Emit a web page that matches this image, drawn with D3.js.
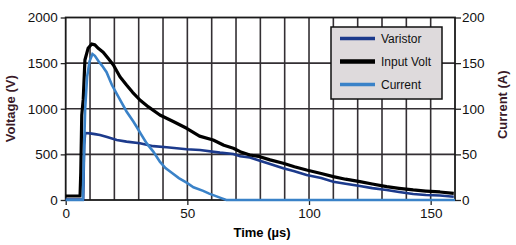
<!DOCTYPE html>
<html>
<head>
<meta charset="utf-8">
<script src="https://cdn.jsdelivr.net/npm/d3@7"></script>
<style>
body { margin: 0; background: #fff; }
text { font-family: "Liberation Sans", Arial, sans-serif; }
</style>
</head>
<body>
<div id="chart"></div>
<script>
// time (us), value pairs
var inputVolt = [[0,44],[5.9,44],[6.2,300],[6.6,930],[7.2,1100],[7.9,1534],[9.2,1662],[10.7,1710],[12,1700],[13.5,1660],[15.4,1620],[17.5,1550],[19.6,1480],[22.3,1351],[25,1260],[27.5,1180],[30.5,1096],[34,1020],[38.7,932],[44.2,860],[49.7,786],[55,700],[60.6,658],[65,600],[68.9,567],[71.7,530],[75.7,493],[79.8,475],[84,440],[89.4,402],[94,365],[99,329],[105,290],[110,256],[115,228],[120.9,201],[126,175],[131.9,146],[137,128],[142.8,110],[148,98],[153.8,88],[159.5,73]];
var varistor = [[0,5],[7.2,5],[7.6,600],[8,734],[10,730],[12,722],[14.1,712],[17,690],[21,658],[25,640],[30.5,621],[36,590],[41.5,578],[49.7,556],[55.2,548],[63.4,519],[68.9,505],[71.7,480],[75.7,465],[79.8,430],[84,395],[89.4,347],[94,315],[99,274],[105,240],[110,201],[115,178],[120.9,153],[126,130],[131.9,110],[137,88],[142.8,66],[148,55],[153.8,50],[159.5,36]];
var current = [[0,0],[7,0],[7.4,40],[8,100],[8.8,135],[9.8,152],[11,160],[12,158],[13.5,152],[15,147],[16.8,140],[19,126],[22.3,110],[25,97],[27.8,86],[29.2,80],[31,72],[33.3,62],[36,53],[38.7,42],[41,35],[44,29],[46.5,24],[49.7,19],[52.5,14],[56.5,10],[59,7],[62,4],[64.5,1.5],[66,0],[160,0]];

var xTicks = [0, 50, 100, 150];
var voltTicks = [0, 500, 1000, 1500, 2000];
var ampTicks = [0, 50, 100, 150, 200];
var legendNames = ["Varistor", "Input Volt", "Current"];
var colors = {"Varistor": "#1c3a8c", "Input Volt": "#000", "Current": "#3a82c8"};

var margin = {top: 17.5, left: 65.7, right: 61, bottom: 45};
var width = 516 - margin.left - margin.right;
var height = 245 - margin.top - margin.bottom;

var svg = d3.select("#chart").append("svg")
    .attr("width", 516)
    .attr("height", 245);
var g = svg.append("g")
    .attr("transform", "translate(" + margin.left + "," + margin.top + ")");

var x = d3.scaleLinear().domain([0, 160]).range([0, width]);
var yV = d3.scaleLinear().domain([0, 2000]).range([height, 0]);
var yA = d3.scaleLinear().domain([0, 200]).range([height, 0]);

// grid
g.selectAll(".vgrid").data(d3.range(10, 160, 10)).enter().append("line")
    .attr("x1", function(d) { return x(d); })
    .attr("x2", function(d) { return x(d); })
    .attr("y1", 0).attr("y2", height)
    .attr("stroke", "#332f33").attr("stroke-width", 1.6);
g.selectAll(".hgrid").data(voltTicks.slice(1, 4)).enter().append("line")
    .attr("x1", 0).attr("x2", width)
    .attr("y1", function(d) { return yV(d); })
    .attr("y2", function(d) { return yV(d); })
    .attr("stroke", "#332f33").attr("stroke-width", 1.6);

// axes
var fmt = d3.format("d");
var xAxis = d3.axisBottom(x).tickValues(xTicks).tickFormat(fmt).tickSize(5).tickPadding(3);
var yAxisL = d3.axisLeft(yV).tickValues(voltTicks).tickFormat(fmt).tickSize(5).tickPadding(3);
var yAxisR = d3.axisRight(yA).tickValues(ampTicks).tickFormat(fmt).tickSize(6).tickPadding(1);

function styleAxis(sel) {
    sel.select(".domain").remove();
    sel.selectAll("line").attr("stroke", "#222").attr("stroke-width", 1.3);
    sel.selectAll("text").attr("fill", "#111").style("font-size", "13.5px")
        .attr("font-family", "Liberation Sans, Arial, sans-serif");
}
g.append("g").attr("transform", "translate(0," + height + ")").call(xAxis).call(styleAxis);
g.append("g").call(yAxisL).call(styleAxis);
g.append("g").attr("transform", "translate(" + width + ",0)").call(yAxisR).call(styleAxis);

g.append("rect")
    .attr("width", width).attr("height", height)
    .attr("fill", "none").attr("stroke", "#1a1a1a").attr("stroke-width", 1.8);

// traces
var lineV = d3.line().x(function(d) { return x(d[0]); }).y(function(d) { return yV(d[1]); });
var lineA = d3.line().x(function(d) { return x(d[0]); }).y(function(d) { return yA(d[1]); });

g.append("path").datum(varistor).attr("d", lineV)
    .attr("fill", "none").attr("stroke", colors["Varistor"]).attr("stroke-width", 2.6);
g.append("path").datum(inputVolt).attr("d", lineV)
    .attr("fill", "none").attr("stroke", colors["Input Volt"]).attr("stroke-width", 3.2)
    .attr("stroke-linejoin", "round");
g.append("path").datum(current).attr("d", lineA)
    .attr("fill", "none").attr("stroke", colors["Current"]).attr("stroke-width", 2.6);

// legend
var legend = svg.append("g").attr("transform", "translate(331,27)");
legend.append("rect")
    .attr("width", 111).attr("height", 72)
    .attr("fill", "#dedadc").attr("stroke", "#111").attr("stroke-width", 1.5);
var item = legend.selectAll(".item").data(legendNames).enter().append("g")
    .attr("transform", function(d, i) { return "translate(0," + (11.5 + i * 23) + ")"; });
item.append("line")
    .attr("x1", 9).attr("x2", 44)
    .attr("stroke", function(d) { return colors[d]; })
    .attr("stroke-width", function(d) { return d == "Input Volt" ? 4.5 : 3.5; });
item.append("text")
    .attr("x", 50).attr("dy", "0.35em")
    .style("font-size", "12px").attr("fill", "#111")
    .text(function(d) { return d; });

// titles
svg.append("text")
    .attr("x", 262).attr("y", 237)
    .attr("text-anchor", "middle")
    .style("font-size", "13px").style("font-weight", "bold")
    .text("Time (µs)");
svg.append("text")
    .attr("transform", "translate(15," + (margin.top + height / 2) + ") rotate(-90)")
    .attr("text-anchor", "middle")
    .style("font-size", "13px").style("font-weight", "bold").attr("fill", "#3a1a28")
    .text("Voltage (V)");
svg.append("text")
    .attr("transform", "translate(507," + (margin.top + height / 2 - 4) + ") rotate(-90)")
    .attr("text-anchor", "middle")
    .style("font-size", "13px").style("font-weight", "bold").attr("fill", "#3a1a28")
    .text("Current (A)");
</script>
</body>
</html>
